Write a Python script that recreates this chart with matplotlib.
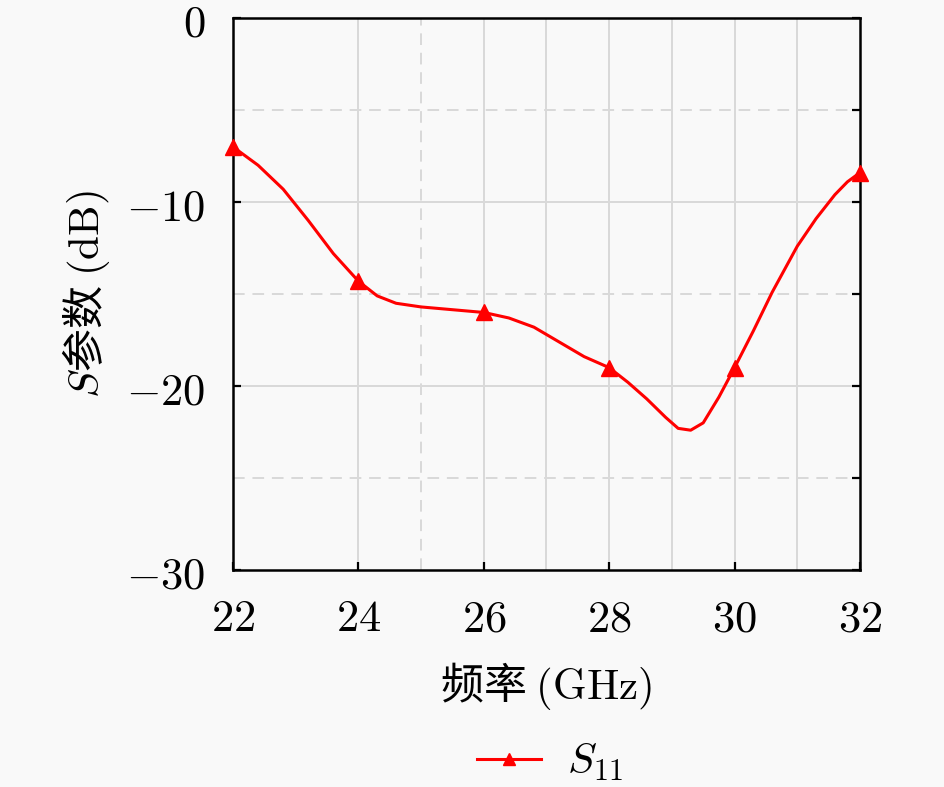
import numpy as np
import matplotlib.pyplot as plt
from matplotlib.ticker import FixedLocator

plt.rcParams['font.family'] = ['Noto Sans CJK SC', 'DejaVu Sans']
plt.rcParams['mathtext.fontset'] = 'cm'

# curve
freq = [22.0, 22.4, 22.8, 23.2, 23.6, 24.0, 24.3, 24.6, 25.0, 25.5, 26.0,
        26.4, 26.8, 27.2, 27.6, 28.0, 28.3, 28.6, 28.9, 29.1, 29.3, 29.5,
        29.75, 30.0, 30.3, 30.6, 31.0, 31.3, 31.6, 31.8, 32.0]
s11 = [-7.0, -8.0, -9.3, -11.0, -12.8, -14.3, -15.1, -15.5, -15.7, -15.85, -16.0,
       -16.3, -16.8, -17.6, -18.4, -19.0, -19.8, -20.7, -21.7, -22.3, -22.4, -22.0,
       -20.6, -19.0, -17.0, -14.9, -12.4, -10.9, -9.6, -8.9, -8.4]
mark_freq = [22, 24, 26, 28, 30, 32]
mark_s11 = [-7.0, -14.3, -16.0, -19.0, -19.0, -8.4]

xticks = [22, 24, 26, 28, 30, 32]
yticks = [0, -10, -20, -30]

bg = '#f9f9f9'
fig = plt.figure(figsize=(9.45, 7.87), dpi=100, facecolor=bg)
ax = fig.add_axes([0.2466, 0.2757, 0.6634, 0.7013], facecolor=bg)

# grid
grid_col = '#d9d9d9'
for gx in [24, 26, 27, 28, 29, 30, 31]:
    ax.axvline(gx, color=grid_col, lw=1.4, zorder=0)
ax.axvline(25, color=grid_col, lw=1.4, ls=(0, (6, 4)), zorder=0)
for gy in [-10, -20]:
    ax.axhline(gy, color=grid_col, lw=1.4, zorder=0)
for gy in [-5, -15, -25]:
    ax.axhline(gy, color=grid_col, lw=1.4, ls=(0, (6, 4)), zorder=0)

ax.plot(freq, s11, color='red', lw=2.2, zorder=3)
ax.plot(mark_freq, mark_s11, ls='none', marker='^', ms=11, color='red',
        clip_on=False, zorder=4)
line_h, = ax.plot([], [], color='red', lw=2.2, marker='^', ms=8)

ax.set_xlim(22, 32)
ax.set_ylim(-30, 0)
ax.set_xticks(xticks)
ax.set_xticklabels(['$%d$' % v for v in xticks])
ax.set_yticks(yticks)
ax.set_yticklabels(['$%d$' % v if v == 0 else '$-%d$' % -v for v in yticks])
ax.yaxis.set_minor_locator(FixedLocator([-5, -15, -25]))

ax.tick_params(which='major', direction='in', length=6, width=1.6,
               labelsize=32, left=True, right=True, top=False, bottom=True, pad=18)
ax.tick_params(axis='y', which='major', pad=20)
ax.tick_params(which='minor', direction='in', length=6, width=1.6,
               left=False, right=True)
for sp in ax.spines.values():
    sp.set_linewidth(1.8)

ax.set_xlabel('频率 $(\\mathrm{GHz})$', fontsize=31, labelpad=14)
ax.set_ylabel('$S$参数 $(\\mathrm{dB})$', fontsize=31, labelpad=10)

fig.legend([line_h], ['$S_{11}$'], loc='lower center', bbox_to_anchor=(0.582, -0.045),
           frameon=False, fontsize=31, handlelength=1.5, handletextpad=0.6)

fig.savefig('out.png', dpi=100, facecolor=bg)
